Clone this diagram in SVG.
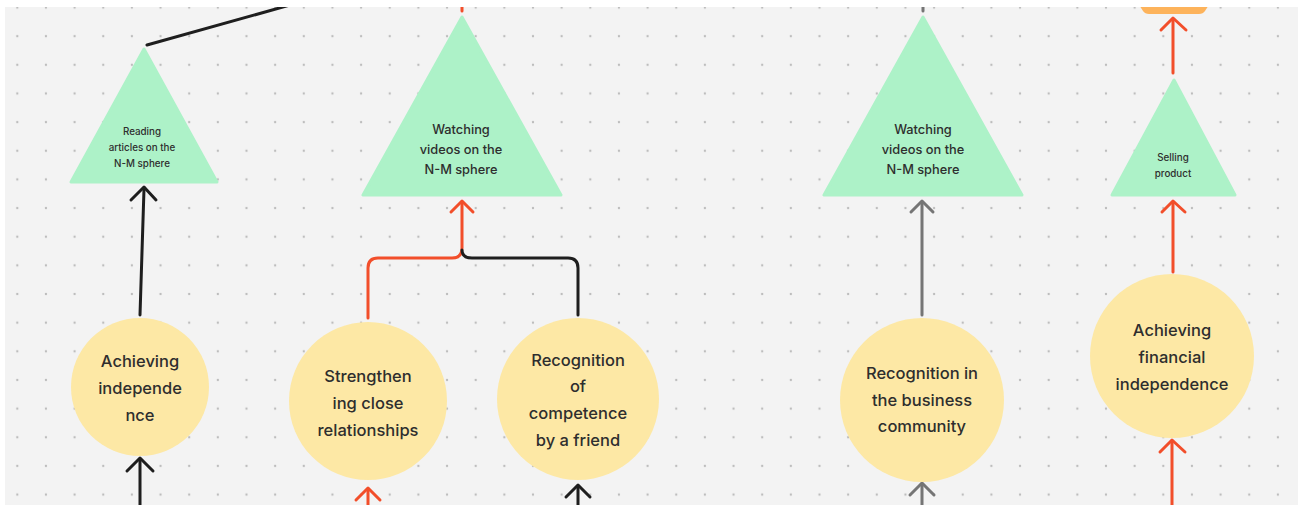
<svg xmlns="http://www.w3.org/2000/svg" width="1303" height="505" viewBox="0 0 1303 505">
  <defs>
    <pattern id="dots" x="17.3" y="7.5" width="28.65" height="28.65" patternUnits="userSpaceOnUse">
      <circle cx="0" cy="0" r="1.2" fill="#bdbdbd"/>
      <circle cx="28.65" cy="0" r="1.2" fill="#bdbdbd"/>
      <circle cx="0" cy="28.65" r="1.2" fill="#bdbdbd"/>
      <circle cx="28.65" cy="28.65" r="1.2" fill="#bdbdbd"/>
    </pattern>
    <clipPath id="canvas">
      <rect x="5" y="7" width="1293" height="498"/>
    </clipPath>
  </defs>
  <style>
    .goal { fill: #fde8a5; }
    .act { fill: #adf2c8; stroke: #adf2c8; stroke-width: 3; stroke-linejoin: round; }
    .t { font-family: Inter, "Noto Sans", "Liberation Sans", sans-serif; font-weight: 500; fill: #2e2e2e; text-anchor: middle; }
    .big { font-size: 16.5px; }
    .mid { font-size: 12.8px; }
    .small { font-size: 9.8px; }
    .edge { fill: none; stroke-width: 3; stroke-linecap: round; stroke-linejoin: round; }
    .red { stroke: #f24e2a; }
    .black { stroke: #1e1e1e; }
    .gray { stroke: #757575; }
  </style>

  <rect width="1303" height="505" fill="#ffffff"/>
  <rect x="5" y="7" width="1293" height="498" fill="#f3f3f3"/>
  <rect x="5" y="7" width="1293" height="498" fill="url(#dots)"/>

  <g clip-path="url(#canvas)">
    <!-- connectors -->
    <g id="connectors">
      <!-- from Reading articles apex, leaving to the upper right -->
      <path class="edge black" d="M147 45 L290 5"/>
      <!-- Achieving independence -> Reading articles -->
      <path class="edge black" d="M140 315 L144 189"/>
      <path class="edge black" d="M131 200 L144 187 L156 200"/>
      <!-- incoming to Achieving independence -->
      <path class="edge black" d="M140 510 L140 460"/>
      <path class="edge black" d="M127 471 L140 458 L153 471"/>

      <!-- Strengthening -> Watching videos (center) -->
      <path class="edge red" d="M368 318 L368 268 Q368 258 378 258 L452 258 Q462 258 462 248 L462 202"/>
      <path class="edge red" d="M451 212 L462 201 L473 212"/>
      <!-- Recognition of competence joins the same branch -->
      <path class="edge black" d="M578 315 L578 268 Q578 258 568 258 L472 258 Q462 258 462 250"/>
      <!-- outgoing from center triangle apex -->
      <path class="edge red" d="M462 0 L462 11"/>
      <!-- incoming to Strengthening -->
      <path class="edge red" d="M368 510 L368 490"/>
      <path class="edge red" d="M356 500 L368 488 L380 500"/>
      <!-- incoming to Recognition of competence -->
      <path class="edge black" d="M578 510 L578 487"/>
      <path class="edge black" d="M566 497 L578 485 L590 497"/>

      <!-- Recognition in the business community -> Watching videos (right) -->
      <path class="edge gray" d="M922 315 L922 202"/>
      <path class="edge gray" d="M911 212 L922 201 L933 212"/>
      <path class="edge gray" d="M923 0 L923 11"/>
      <path class="edge gray" d="M922 510 L922 485"/>
      <path class="edge gray" d="M910 495 L922 483 L934 495"/>

      <!-- Achieving financial independence -> Selling product -> top -->
      <path class="edge red" d="M1173 272 L1173 202"/>
      <path class="edge red" d="M1162 212 L1173 201 L1185 212"/>
      <path class="edge red" d="M1173 73 L1173 19"/>
      <path class="edge red" d="M1161 30 L1173 18 L1186 30"/>
      <path class="edge red" d="M1172 510 L1172 442"/>
      <path class="edge red" d="M1160 452 L1172 440 L1185 452"/>
    </g>

    <!-- product block at the top edge -->
    <g id="product-top">
      <path d="M1136 0 L1212 0 L1205 11 Q1203 14 1199 14 L1149 14 Q1145 14 1143 11 Z" fill="#fdb35b"/>
    </g>

    <!-- activities -->
    <g id="reading-articles">
      <polygon class="act" points="144,49 71,182 217,182"/>
      <text class="t small"><tspan x="142" y="135">Reading</tspan><tspan x="142" y="151">articles on the</tspan><tspan x="142" y="167">N-M sphere</tspan></text>
    </g>
    <g id="watching-videos-1">
      <polygon class="act" points="462,17 363,195 561,195"/>
      <text class="t mid"><tspan x="461" y="134">Watching</tspan><tspan x="461" y="154">videos on the</tspan><tspan x="461" y="174">N-M sphere</tspan></text>
    </g>
    <g id="watching-videos-2">
      <polygon class="act" points="923,17 824,195 1022,195"/>
      <text class="t mid"><tspan x="923" y="134">Watching</tspan><tspan x="923" y="154">videos on the</tspan><tspan x="923" y="174">N-M sphere</tspan></text>
    </g>
    <g id="selling-product">
      <polygon class="act" points="1174,80 1112,195 1235,195"/>
      <text class="t small"><tspan x="1173" y="161">Selling</tspan><tspan x="1173" y="177">product</tspan></text>
    </g>

    <!-- goals -->
    <g id="achieving-independence">
      <circle class="goal" cx="140" cy="387" r="69"/>
      <text class="t big"><tspan x="140" y="367">Achieving</tspan><tspan x="140" y="394">independe</tspan><tspan x="140" y="421">nce</tspan></text>
    </g>
    <g id="strengthening-relationships">
      <circle class="goal" cx="368" cy="401" r="79"/>
      <text class="t big"><tspan x="368" y="382">Strengthen</tspan><tspan x="368" y="409">ing close</tspan><tspan x="368" y="436">relationships</tspan></text>
    </g>
    <g id="recognition-friend">
      <circle class="goal" cx="578" cy="399" r="81"/>
      <text class="t big"><tspan x="578" y="366">Recognition</tspan><tspan x="578" y="392">of</tspan><tspan x="578" y="419">competence</tspan><tspan x="578" y="446">by a friend</tspan></text>
    </g>
    <g id="recognition-business">
      <circle class="goal" cx="922" cy="400" r="82"/>
      <text class="t big"><tspan x="922" y="379">Recognition in</tspan><tspan x="922" y="406">the business</tspan><tspan x="922" y="432">community</tspan></text>
    </g>
    <g id="financial-independence">
      <circle class="goal" cx="1172" cy="356" r="82"/>
      <text class="t big"><tspan x="1172" y="336">Achieving</tspan><tspan x="1172" y="363">financial</tspan><tspan x="1172" y="390">independence</tspan></text>
    </g>
  </g>
</svg>
